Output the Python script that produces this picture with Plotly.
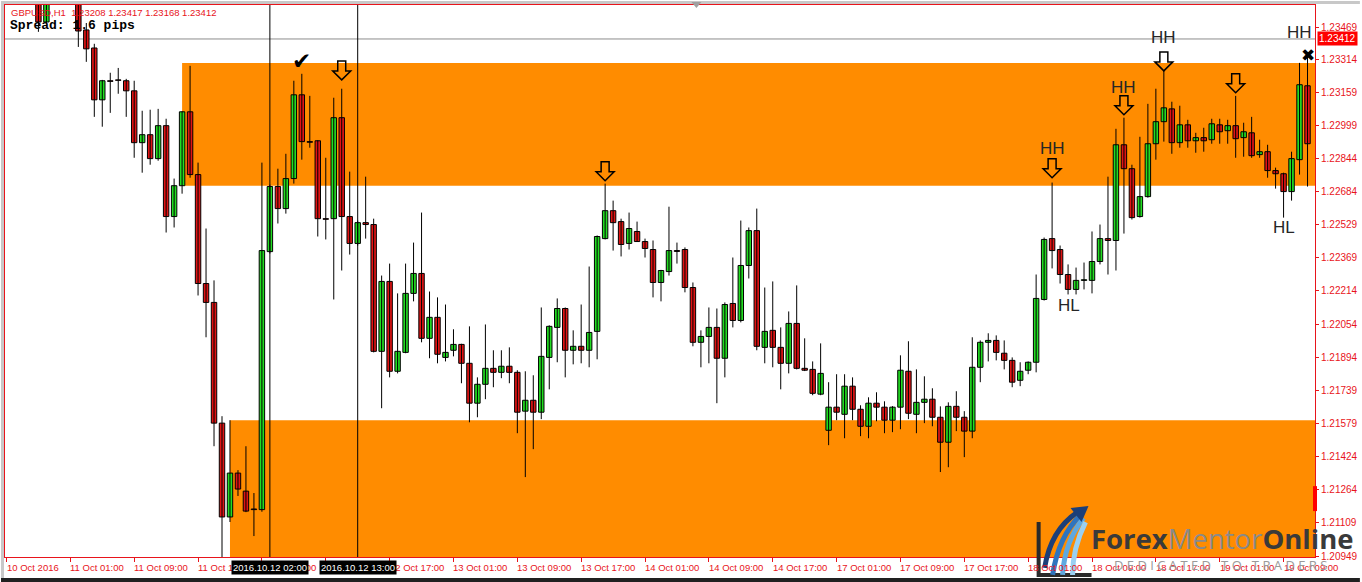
import plotly.graph_objects as go

# ---------------- data (GBPUSD H1, bar index 0 = 10 Oct 2016 17:00) ----------------
bar_index = list(range(164))
opens = [1.23920, 1.23860, 1.23800, 1.23740, 1.23680, 1.23493, 1.23720, 1.23800, 1.23750, 1.23700,
         1.23455, 1.23369, 1.23122, 1.23213, 1.23217, 1.23213, 1.23165, 1.22918, 1.22956, 1.22842,
         1.22999, 1.22566, 1.22713, 1.23065, 1.22766, 1.22247, 1.22157, 1.21582, 1.21135, 1.21344,
         1.21258, 1.21173, 1.21170, 1.22399, 1.22709, 1.22604, 1.22747, 1.23146, 1.22923, 1.22927,
         1.22556, 1.22556, 1.23037, 1.22566, 1.22438, 1.22537, 1.22528, 1.21924, 1.22257, 1.21829,
         1.21919, 1.22200, 1.22295, 1.21986, 1.22086, 1.21895, 1.21929, 1.21957, 1.21867, 1.21677,
         1.21767, 1.21843, 1.21824, 1.21853, 1.21824, 1.21639, 1.21691, 1.21634, 1.21895, 1.22038,
         1.22128, 1.21929, 1.21948, 1.21929, 1.22019, 1.22461, 1.22594, 1.22542, 1.22438, 1.22495,
         1.22447, 1.22409, 1.22252, 1.22304, 1.22404, 1.22409, 1.22228, 1.21967, 1.21995, 1.22038,
         1.21891, 1.22152, 1.22071, 1.22333, 1.22499, 1.21943, 1.22024, 1.21943, 1.21867, 1.22057,
         1.21843, 1.21838, 1.21720, 1.21548, 1.21658, 1.21624, 1.21758, 1.21648, 1.21567, 1.21677,
         1.21658, 1.21596, 1.21658, 1.21829, 1.21624, 1.21681, 1.21696, 1.21610, 1.21491, 1.21662,
         1.21610, 1.21544, 1.21848, 1.21967, 1.21976, 1.21915, 1.21881, 1.21786, 1.21834, 1.21872,
         1.22171, 1.22461, 1.22409, 1.22290, 1.22219, 1.22262, 1.22262, 1.22352, 1.22461, 1.22452,
         1.22908, 1.22794, 1.22566, 1.22661, 1.22913, 1.23018, 1.23079, 1.22918, 1.23003, 1.22927,
         1.22942, 1.22932, 1.23003, 1.22975, 1.22999, 1.22942, 1.22965, 1.22861, 1.22875, 1.22785,
         1.22770, 1.22685, 1.22837, 1.23189]
highs = [1.24010, 1.23940, 1.23880, 1.23820, 1.23720, 1.23780, 1.23850, 1.23900, 1.23810, 1.23740,
         1.23488, 1.23389, 1.23217, 1.23251, 1.23274, 1.23222, 1.23213, 1.23070, 1.23075, 1.23079,
         1.23032, 1.22747, 1.23068, 1.23284, 1.22823, 1.22509, 1.22262, 1.21615, 1.21596, 1.21358,
         1.21472, 1.21249, 1.22823, 1.22718, 1.22794, 1.22865, 1.23213, 1.23246, 1.23141, 1.22930,
         1.22846, 1.23132, 1.23175, 1.22780, 1.22547, 1.22756, 1.22556, 1.22285, 1.22342, 1.22200,
         1.22342, 1.22442, 1.22585, 1.22209, 1.22181, 1.22147, 1.22029, 1.21960, 1.22043, 1.21800,
         1.22052, 1.21929, 1.21929, 1.21943, 1.21834, 1.21829, 1.21810, 1.22133, 1.22048, 1.22176,
         1.22133, 1.22024, 1.22147, 1.22328, 1.22476, 1.22723, 1.22642, 1.22556, 1.22585, 1.22542,
         1.22461, 1.22452, 1.22312, 1.22613, 1.22442, 1.22419, 1.22252, 1.22024, 1.22133, 1.22128,
         1.22157, 1.22371, 1.22547, 1.22514, 1.22604, 1.22228, 1.22257, 1.22038, 1.22114, 1.22238,
         1.21986, 1.21876, 1.21962, 1.21777, 1.21815, 1.21815, 1.21800, 1.21667, 1.21705, 1.21729,
         1.21686, 1.21663, 1.21905, 1.21972, 1.21838, 1.21805, 1.21748, 1.21662, 1.21681, 1.21734,
         1.21639, 1.21991, 1.21976, 1.22010, 1.22000, 1.21976, 1.21895, 1.21872, 1.21876, 1.22290,
         1.22466, 1.22728, 1.22428, 1.22338, 1.22323, 1.22347, 1.22495, 1.22528, 1.22756, 1.22984,
         1.23037, 1.22813, 1.22946, 1.23103, 1.23175, 1.23260, 1.23113, 1.23094, 1.23027, 1.22965,
         1.22989, 1.23032, 1.23032, 1.23027, 1.23141, 1.23013, 1.23041, 1.22932, 1.22908, 1.22799,
         1.22775, 1.22875, 1.23298, 1.23341]
lows = [1.23810, 1.23760, 1.23700, 1.23660, 1.23446, 1.23488, 1.23660, 1.23720, 1.23640, 1.23374,
        1.23303, 1.23041, 1.22994, 1.23060, 1.23151, 1.23041, 1.22846, 1.22775, 1.22813, 1.22832,
        1.22490, 1.22514, 1.22675, 1.22751, 1.22190, 1.21991, 1.21472, 1.20930, 1.21111, 1.21235,
        1.21158, 1.21044, 1.21160, 1.22390, 1.22533, 1.22580, 1.22723, 1.22837, 1.22894, 1.22471,
        1.22457, 1.22171, 1.22309, 1.22385, 1.22428, 1.22461, 1.21919, 1.21653, 1.21800, 1.21819,
        1.21915, 1.22162, 1.21967, 1.21891, 1.21867, 1.21876, 1.21900, 1.21772, 1.21586, 1.21610,
        1.21696, 1.21753, 1.21796, 1.21772, 1.21534, 1.21325, 1.21458, 1.21601, 1.21743, 1.21872,
        1.21800, 1.21862, 1.21867, 1.21848, 1.21886, 1.22457, 1.22404, 1.22376, 1.22409, 1.22445,
        1.22371, 1.22181, 1.22162, 1.22285, 1.22342, 1.22205, 1.21948, 1.21848, 1.21867, 1.21677,
        1.21800, 1.22038, 1.22062, 1.22271, 1.21929, 1.21867, 1.21848, 1.21743, 1.21819, 1.21838,
        1.21830, 1.21715, 1.21715, 1.21477, 1.21596, 1.21510, 1.21596, 1.21520, 1.21510, 1.21591,
        1.21534, 1.21539, 1.21553, 1.21601, 1.21534, 1.21582, 1.21567, 1.21349, 1.21372, 1.21544,
        1.21420, 1.21510, 1.21777, 1.21876, 1.21881, 1.21838, 1.21753, 1.21758, 1.21815, 1.21824,
        1.22166, 1.22319, 1.22247, 1.22195, 1.22195, 1.22219, 1.22200, 1.22338, 1.22290, 1.22309,
        1.22485, 1.22552, 1.22561, 1.22656, 1.22837, 1.22923, 1.22865, 1.22894, 1.22894, 1.22870,
        1.22875, 1.22913, 1.22913, 1.22913, 1.22846, 1.22851, 1.22846, 1.22846, 1.22751, 1.22699,
        1.22561, 1.22642, 1.22766, 1.22709]
closes = [1.23860, 1.23800, 1.23740, 1.23680, 1.23493, 1.23720, 1.23800, 1.23750, 1.23700, 1.23450,
          1.23365, 1.23122, 1.23213, 1.23210, 1.23215, 1.23165, 1.22918, 1.22956, 1.22842, 1.22999,
          1.22566, 1.22713, 1.23065, 1.22766, 1.22247, 1.22157, 1.21582, 1.21135, 1.21344, 1.21268,
          1.21163, 1.21170, 1.22404, 1.22709, 1.22604, 1.22747, 1.23146, 1.22923, 1.22920, 1.22556,
          1.22553, 1.23037, 1.22566, 1.22438, 1.22537, 1.22528, 1.21924, 1.22257, 1.21829, 1.21924,
          1.22200, 1.22295, 1.21986, 1.22086, 1.21910, 1.21919, 1.21957, 1.21867, 1.21677, 1.21767,
          1.21843, 1.21824, 1.21853, 1.21824, 1.21634, 1.21691, 1.21634, 1.21900, 1.22043, 1.22128,
          1.21929, 1.21948, 1.21929, 1.22014, 1.22471, 1.22594, 1.22537, 1.22433, 1.22509, 1.22447,
          1.22414, 1.22252, 1.22309, 1.22404, 1.22400, 1.22228, 1.21967, 1.21995, 1.22038, 1.21891,
          1.22147, 1.22071, 1.22333, 1.22499, 1.21948, 1.22019, 1.21943, 1.21867, 1.22057, 1.21843,
          1.21834, 1.21724, 1.21819, 1.21658, 1.21634, 1.21758, 1.21648, 1.21567, 1.21677, 1.21658,
          1.21596, 1.21658, 1.21834, 1.21629, 1.21681, 1.21696, 1.21610, 1.21491, 1.21662, 1.21610,
          1.21544, 1.21848, 1.21967, 1.21976, 1.21919, 1.21881, 1.21777, 1.21829, 1.21872, 1.22176,
          1.22457, 1.22404, 1.22290, 1.22219, 1.22262, 1.22265, 1.22352, 1.22461, 1.22452, 1.22908,
          1.22794, 1.22561, 1.22661, 1.22913, 1.23018, 1.23084, 1.22918, 1.23003, 1.22927, 1.22942,
          1.22927, 1.23008, 1.22970, 1.22999, 1.22937, 1.22970, 1.22856, 1.22875, 1.22785, 1.22770,
          1.22685, 1.22842, 1.23194, 1.22913]

time_tick_bars = list(range(0, 161, 8))
time_tick_labels = ["10 Oct 2016", "11 Oct 01:00", "11 Oct 09:00", "11 Oct 17:00", "12 Oct 01:00",
                    "12 Oct 09:00", "12 Oct 17:00", "13 Oct 01:00", "13 Oct 09:00", "13 Oct 17:00",
                    "14 Oct 01:00", "14 Oct 09:00", "14 Oct 17:00", "17 Oct 01:00", "17 Oct 09:00",
                    "17 Oct 17:00", "18 Oct 01:00", "18 Oct 09:00", "18 Oct 17:00", "19 Oct 01:00",
                    "19 Oct 09:00"]
price_ticks = [1.23469, 1.23314, 1.23159, 1.22999, 1.22844, 1.22684, 1.22529, 1.22369, 1.22214,
               1.22054, 1.21894, 1.21739, 1.21579, 1.21424, 1.21264, 1.21109, 1.20949]

supply_start, supply_low, supply_high = 22, 1.22713, 1.23298
demand_start, demand_high = 28, 1.21596
bid_price = 1.23412
vline_bars = [33, 44]
vline_labels = ["2016.10.12 02:00", "2016.10.12 13:00"]
arrow_bars = [42, 75, 131, 140, 145, 154]
arrow_tips = [1.23217, 1.22737, 1.22751, 1.23051, 1.23260, 1.23156]
hh_bars = [131, 140, 145, 162]
hh_prices = [1.22889, 1.23179, 1.23417, 1.23441]
hl_bars = [133.1, 160.1]
hl_prices = [1.22143, 1.22514]
check_bar, check_price = 37, 1.23308
cross_bar, cross_price = 163, 1.23336
header_text = "GBPUSD,H1  1.23208 1.23417 1.23168 1.23412"
spread_text = "Spread: 1.6 pips"

# ---------------- geometry ----------------
W, H = 1362, 582
ML, MR, MT, MB = 4, 45, 4, 25
PW, PH = W - ML - MR, H - MT - MB
PX_PER_BAR = 8
PRICE_PER_PX = 0.00004755
x_range = [-1.5 / PX_PER_BAR, -1.5 / PX_PER_BAR + PW / PX_PER_BAR]
y_top = 1.235738
y_range = [y_top - PH * PRICE_PER_PX, y_top]

RED = "#e8141b"
GREEN = "#22dd22"
CANDLE_RED = "#e01414"
ORANGE = "#ff8c00"


def pp(xp, yp):
    """pixel -> paper coordinates (decoration only)"""
    return (xp - ML) / PW, (H - MB - yp) / PH


def ppath(points, close=False):
    s = ""
    for k, (a, b) in enumerate(points):
        x, y = pp(a, b)
        s += ("M" if k == 0 else "L") + f"{x:.5f},{y:.5f} "
    return s + ("Z" if close else "")


fig = go.Figure()

# wicks
wx, wy = [], []
for i, h, l in zip(bar_index, highs, lows):
    wx += [i, i, None]
    wy += [l, h, None]
fig.add_trace(go.Scatter(x=wx, y=wy, mode="lines", line=dict(color="black", width=1),
                         hoverinfo="skip"))

# bodies
body_base = [min(o, c) for o, c in zip(opens, closes)]
body_len = [max(abs(c - o), 0.00002) for o, c in zip(opens, closes)]
body_col = [GREEN if c > o else CANDLE_RED for o, c in zip(opens, closes)]
fig.add_trace(go.Bar(x=bar_index, y=body_len, base=body_base, width=0.68,
                     marker=dict(color=body_col, line=dict(color="black", width=1)),
                     hoverinfo="skip"))

shapes = []
# zones
shapes.append(dict(type="rect", xref="x", yref="y", x0=supply_start, x1=x_range[1],
                   y0=supply_low, y1=supply_high, fillcolor=ORANGE, line=dict(width=0), layer="below"))
shapes.append(dict(type="rect", xref="x", yref="y", x0=demand_start, x1=x_range[1],
                   y0=y_range[0], y1=demand_high, fillcolor=ORANGE, line=dict(width=0), layer="below"))
# bid line
shapes.append(dict(type="line", xref="paper", yref="y", x0=0, x1=1, y0=bid_price, y1=bid_price,
                   line=dict(color="#8c8c8c", width=1), layer="below"))
# vertical lines
for b in vline_bars:
    shapes.append(dict(type="line", xref="x", yref="paper", x0=b, x1=b, y0=0, y1=1,
                       line=dict(color="black", width=1)))
# hollow arrows
dx, dy = 1 / PX_PER_BAR, PRICE_PER_PX
for b, t in zip(arrow_bars, arrow_tips):
    pts = [(b, t), (b - 9 * dx, t + 9 * dy), (b - 4 * dx, t + 9 * dy), (b - 4 * dx, t + 19 * dy),
           (b + 4 * dx, t + 19 * dy), (b + 4 * dx, t + 9 * dy), (b + 9 * dx, t + 9 * dy)]
    path = "M" + " L".join(f"{x:.4f},{y:.6f}" for x, y in pts) + " Z"
    shapes.append(dict(type="path", xref="x", yref="y", path=path,
                       line=dict(color="black", width=1.5), fillcolor="rgba(0,0,0,0)"))

# window frame / markers (decoration)
shapes.append(dict(type="rect", xref="paper", yref="paper", x0=pp(0, 0)[0], x1=pp(3, 0)[0],
                   y0=pp(0, 582)[1], y1=pp(0, 0)[1], fillcolor="#c8c8c8", line=dict(width=0)))
shapes.append(dict(type="rect", xref="paper", yref="paper", x0=pp(0, 0)[0], x1=pp(1362, 0)[0],
                   y0=pp(0, 3)[1], y1=pp(0, 0)[1], fillcolor="#c8c8c8", line=dict(width=0)))
shapes.append(dict(type="rect", xref="paper", yref="paper", x0=pp(0, 0)[0], x1=pp(1362, 0)[0],
                   y0=pp(0, 582)[1], y1=pp(0, 578)[1], fillcolor="#202020", line=dict(width=0)))
shapes.append(dict(type="path", xref="paper", yref="paper",
                   path=ppath([(692, 1), (702, 1), (697, 7)], close=True),
                   fillcolor="#a0a0a0", line=dict(width=0)))
shapes.append(dict(type="rect", xref="paper", yref="paper", x0=pp(1315, 0)[0], x1=pp(1319, 0)[0],
                   y0=pp(0, 511)[1], y1=pp(0, 486)[1], fillcolor="#ff0000", line=dict(width=0)))

# logo icon (decoration)
shapes.append(dict(type="path", xref="paper", yref="paper",
                   path=ppath([(1040, 522), (1040, 575), (1093, 575)]),
                   line=dict(color="#2a2a2a", width=4)))
for (a, c, e, col) in [((1046, 568), (1052, 530), (1079, 512), "#1c3f78"),
                       ((1054, 575), (1060, 536), (1082, 515), "#2f74be"),
                       ((1064, 575), (1066, 542), (1085, 518), "#5fa8e0"),
                       ((1074, 575), (1074, 548), (1087, 522), "#9ad0f2")]:
    p0, p1, p2 = pp(*a), pp(*c), pp(*e)
    shapes.append(dict(type="path", xref="paper", yref="paper",
                       path=f"M{p0[0]:.5f},{p0[1]:.5f} Q{p1[0]:.5f},{p1[1]:.5f} {p2[0]:.5f},{p2[1]:.5f}",
                       line=dict(color=col, width=5)))
shapes.append(dict(type="path", xref="paper", yref="paper",
                   path=ppath([(1072, 508), (1090, 506), (1083, 522)], close=True),
                   fillcolor="#1c3f78", line=dict(width=0)))

annotations = []
# time axis labels
for b, t in zip(time_tick_bars, time_tick_labels):
    annotations.append(dict(x=b, xref="x", y=0, yref="paper", text=t, showarrow=False,
                            xanchor="left", yanchor="top", yshift=-3, xshift=-2,
                            font=dict(family="Liberation Sans", size=9.5, color=RED)))
# vertical-line labels
for b, t in zip(vline_bars, vline_labels):
    annotations.append(dict(x=b, xref="x", y=0, yref="paper", text=t, showarrow=False,
                            xanchor="center", yanchor="top", yshift=-3, bgcolor="black",
                            borderpad=1,
                            font=dict(family="Liberation Sans", size=9.5, color="white")))
# bid label
annotations.append(dict(x=1, xref="paper", y=bid_price, yref="y", text=f"{bid_price:.5f}",
                        showarrow=False, xanchor="left", xshift=2, bgcolor="#ff0000", borderpad=1,
                        font=dict(family="Liberation Sans", size=10, color="white")))
# header texts
hx, hy = pp(8, 12)
annotations.append(dict(x=hx, y=hy, xref="paper", yref="paper", text=header_text, showarrow=False,
                        xanchor="left", yanchor="middle",
                        font=dict(family="Liberation Sans", size=9.5, color=RED)))
sx, sy = pp(7, 25)
annotations.append(dict(x=sx, y=sy, xref="paper", yref="paper", text=f"<b>{spread_text}</b>",
                        showarrow=False, xanchor="left", yanchor="middle",
                        font=dict(family="Liberation Mono", size=13, color="black")))
# HH / HL
for b, p in zip(hh_bars, hh_prices):
    annotations.append(dict(x=b, y=p, xref="x", yref="y", text="HH", showarrow=False,
                            xanchor="center", yanchor="middle",
                            font=dict(family="Liberation Sans", size=17, color="#262626")))
for b, p in zip(hl_bars, hl_prices):
    annotations.append(dict(x=b, y=p, xref="x", yref="y", text="HL", showarrow=False,
                            xanchor="center", yanchor="middle",
                            font=dict(family="Liberation Sans", size=17, color="#262626")))
annotations.append(dict(x=check_bar, y=check_price, xref="x", yref="y", text="✔", showarrow=False,
                        xanchor="center", yanchor="middle",
                        font=dict(family="DejaVu Sans", size=23, color="black")))
annotations.append(dict(x=cross_bar, y=cross_price, xref="x", yref="y", text="✖", showarrow=False,
                        xanchor="center", yanchor="middle",
                        font=dict(family="DejaVu Sans", size=17, color="black")))
# logo text
lx, ly = pp(1224, 538)
annotations.append(dict(x=lx, y=ly, xref="paper", yref="paper", showarrow=False,
                        xanchor="center", yanchor="middle",
                        text="<b>Forex</b><span style='color:#8a8a8a'>Mentor</span><b>Online</b>",
                        font=dict(family="Open Sans", size=27.5, color="#3a3a3a")))
dx_, dy_ = pp(1222, 565)
annotations.append(dict(x=dx_, y=dy_, xref="paper", yref="paper", showarrow=False,
                        xanchor="center", yanchor="middle",
                        text="D E D I C A T E D   T O   T R A D E R S",
                        font=dict(family="Open Sans", size=13, color="#9a9a9a")))

fig.update_layout(
    width=W, height=H,
    margin=dict(l=ML, r=MR, t=MT, b=MB, pad=0),
    paper_bgcolor="white", plot_bgcolor="white",
    showlegend=False, hovermode=False, barmode="overlay",
    shapes=shapes, annotations=annotations,
    xaxis=dict(range=x_range, showgrid=False, zeroline=False, showline=True, linecolor=RED,
               linewidth=1, mirror=True, ticks="outside", ticklen=4, tickcolor=RED,
               tickvals=time_tick_bars, showticklabels=False, fixedrange=True),
    yaxis=dict(range=y_range, side="right", showgrid=False, zeroline=False, showline=True,
               linecolor=RED, linewidth=1, mirror=True, ticks="outside", ticklen=3, tickcolor=RED,
               tickvals=price_ticks, ticktext=[f"{v:.5f}" for v in price_ticks],
               tickfont=dict(family="Liberation Sans", size=10, color=RED), fixedrange=True),
)

fig.write_html("out.html", config={"displayModeBar": False},
               post_script="document.body.style.margin='0';document.body.style.overflow='hidden';")
